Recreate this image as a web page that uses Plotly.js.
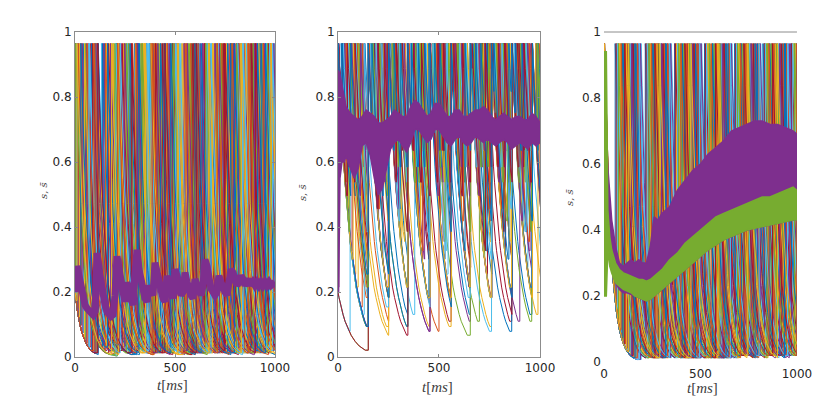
<!DOCTYPE html>
<html><head><meta charset="utf-8">
<script src="https://cdn.plot.ly/plotly-3.0.1.min.js"></script>
<style>html,body{margin:0;padding:0;background:#fff}#chart{width:830px;height:420px}</style>
</head><body><div id="chart"></div>
<script>
// ---------- data ----------
const palette = ['#0072BD','#D95319','#EDB120','#7E2F8E','#77AC30','#4DBEEE','#A2142F'];
const xTicks = [0, 500, 1000];
const xTickText = ['0', '500', '1000'];
const yTicks = [0, 0.2, 0.4, 0.6, 0.8, 1];
const yTickText = ['0', '0.2', '0.4', '0.6', '0.8', '1'];

// decay profile of one synaptic trace after a spike (offset ms -> s), panels 1 & 3
const decayOffsA = [0,5,10,15,20,25,30,35,40,45,50,55,60,65,70,75,80,90,100,110,120,135,150,170,200,250,300];
const decayValsA = [0.965,0.837,0.725,0.629,0.545,0.472,0.410,0.355,0.308,0.267,0.231,0.200,0.174,0.150,0.131,0.113,0.098,0.074,0.055,0.042,0.031,0.020,0.013,0.0075,0.0033,0.0008,0.0002];
// slower decay profile, panel 2
const decayOffsB = [0,5,10,15,20,25,30,35,40,45,50,55,60,65,70,75,80,90,100,110,120,130,140,150,160,180,200,230,260,300,400];
const decayValsB = [0.965,0.888,0.817,0.752,0.691,0.636,0.585,0.538,0.496,0.456,0.419,0.386,0.355,0.327,0.301,0.276,0.255,0.215,0.183,0.154,0.131,0.110,0.094,0.079,0.067,0.048,0.034,0.021,0.013,0.0065,0.0012];
// time of the virtual spike before t=0 that gives the starting value s=0.2
const startSpike1 = -55, startSpike2 = -95, startSpike3 = -55;

// spike times (ms) of each neuron, panel 1
const spikes1 = [
[3,148,322,487,655,811,960],[27,108,266,431,602,744,905],[4,175,341,520,690,843],[58,210,377,548,703,870,990],
[106,254,410,583,728,895],[2,132,306,468,621,782,938],[79,209,357,502,666,821,977],[41,190,309,455,610,760,915],
[5,112,288,442,598,770,928],[91,241,399,560,715,862],[18,160,304,476,637,799,951],[107,270,424,591,736,889],
[6,212,365,530,684,853,998],[66,222,384,509,648,806,944],[110,299,452,617,780,923],[33,205,334,497,652,790,967],
[104,185,348,540,695,834],[8,143,311,463,626,776,908],[52,214,392,566,707,876],[115,262,401,553,719,858,985],
[1,168,316,489,645,817,970],[83,207,373,515,674,829],[111,246,406,577,733,901],[23,156,302,458,603,757,919],
[98,230,389,545,699,847,994],[7,211,329,483,661,786,935],[72,202,355,502,657,814,956],[113,280,437,594,751,884],
[12,137,308,446,608,779,931],[61,216,396,557,712,865],[109,193,346,517,668,826,982],[36,178,313,471,639,793,945],
[102,258,417,571,726,892],[9,204,361,506,660,838,973],[88,236,403,586,741,880],[116,275,428,600,764,913],
[15,152,305,461,615,785,941],[47,218,380,535,688,851],[105,249,414,562,722,897],[3,199,337,493,654,808,962],
[69,226,370,524,680,841,988],[114,284,449,606,748,903],[29,163,319,479,631,797,953],[95,213,386,551,711,869],
[10,183,352,512,671,832,979]
];
// spike times (ms), panel 2: fast-firing neurons
const spikes2fast = [
[0,24,61,150,178,203,231,250,289,316,344,372,398,455,483,509,538,560,597,623,655,689,712,760,785,812,838,860,903,931,960,990],
[2,35,70,102,151,172,249,268,297,321,346,377,421,454,471,502,531,559,655,681,705,733,759,792,826,861,882,917,942,961],
[1,19,48,149,186,214,251,282,307,345,403,432,456,489,520,561,586,611,633,656,702,738,761,798,821,859,898,925,959,984],
[3,41,83,118,152,190,223,252,274,346,368,395,427,453,481,517,562,603,629,654,683,715,741,762,790,862,887,914,938,962],
[0,28,57,96,150,167,197,250,316,347,379,410,455,475,504,544,560,589,618,657,694,759,780,809,846,860,893,924,960,978],
[1,53,91,151,181,208,239,253,287,344,362,391,418,457,492,523,561,577,609,641,655,722,760,774,805,832,863,905,961,988],
[2,31,66,98,129,150,199,229,250,281,312,345,380,454,466,498,527,549,562,600,656,685,716,744,761,828,858,875,920,958],
[0,45,77,150,161,192,219,251,304,332,346,388,422,456,507,538,559,594,624,654,674,703,758,787,817,861,911,940,960,996],
[3,26,59,110,148,201,236,249,276,301,344,358,429,455,481,519,563,651,657,690,726,762,797,823,848,859,881,951,963,982],
[1,37,72,152,176,212,252,296,325,347,371,402,436,454,485,513,541,560,572,616,656,708,737,761,813,843,862,897,926,959],
[0,16,44,87,133,149,180,224,250,262,309,343,393,457,477,511,560,596,631,655,668,737,760,771,818,860,877,934,962,992],
[2,50,150,192,227,251,268,331,346,409,444,455,492,528,552,561,606,640,657,693,721,759,791,852,861,908,944,960],
[1,30,64,104,151,169,251,279,308,345,366,406,454,468,531,562,590,627,654,726,762,784,839,863,892,929,958,989],
[3,22,55,150,183,216,244,253,290,319,347,386,452,456,502,530,559,583,655,680,711,758,766,822,859,888,919,961],
[0,40,79,148,157,206,249,284,313,344,352,420,455,487,515,560,567,622,656,702,750,760,807,835,862,883,948,962],
[2,33,68,111,150,196,233,250,299,328,346,376,414,455,496,524,561,580,611,655,698,727,761,798,829,860,914,940,959],
[1,58,150,174,206,250,271,302,344,384,418,456,477,508,547,562,598,657,677,712,745,762,781,818,861,901,958,985],
[0,27,52,89,149,162,188,217,252,306,345,361,392,454,470,536,560,602,634,654,689,760,776,811,859,871,931,961],
[3,47,85,151,199,229,251,288,345,374,413,457,494,523,559,573,617,656,664,730,761,793,826,862,896,922,960],
[1,21,63,150,168,250,278,311,346,364,398,430,455,479,505,561,629,657,682,707,759,772,846,860,880,910,963]
];
// spike times (ms), panel 2: slow-firing neurons
const spikes2slow = [
[0,150,222,345,455,530,655,760,830,960],[2,88,251,310,455,560,612,760,861,920],
[150,200,346,400,456,561,700,762,862,958],[1,70,150,252,345,420,560,656,720,860,962],
[0,120,251,346,500,561,655,760,790,861,961],[3,151,250,300,455,520,656,762,900,960],
[60,150,251,380,455,561,600,760,861,940],[1,150,200,346,455,562,656,700,860,962],
[2,100,250,345,410,560,654,761,862,990],[0,149,252,346,456,480,655,760,820,959],
[150,180,346,455,561,655,740,861,961],[1,40,150,251,345,455,560,580,657,762,862,960],
[3,151,249,300,456,560,656,760,861,880,962],[0,130,250,344,455,545,655,762,860,960],
[2,150,252,345,450,561,656,680,761,862,961],[1,75,151,250,346,456,562,655,759,859,963]
];
// spike times (ms), panel 3
const spikes3 = [
[0,124,287,446,598,742,881],[1,96,251,402,560,706,853,990],[0,158,309,471,617,770,915],[2,77,230,379,533,690,834,967],
[1,139,296,452,611,759,902],[0,181,327,488,640,785,938],[3,104,262,418,575,722,870],[1,148,315,463,628,776,925],
[0,66,221,372,529,684,829,976],[2,170,336,497,652,799,949],[0,115,273,431,586,735,889],[1,87,243,395,548,702,847,995],
[0,193,349,506,663,812,958],[2,131,282,440,603,751,897],[1,58,214,366,521,677,824,971],[0,162,318,479,635,788,933],
[3,109,266,423,581,729,876],[1,145,301,458,620,765,912],[0,72,236,385,540,695,841,984],[2,186,342,501,657,806,954],
[0,120,278,434,592,738,885],[1,92,247,409,565,713,860],[0,154,312,468,625,781,929],[2,81,226,376,537,687,838,981],
[1,176,331,492,646,793,944],[0,101,257,413,570,719,866],[3,135,292,449,607,755,907],[0,63,218,369,525,681,832,973],
[1,166,322,484,643,795,940],[2,112,270,427,584,732,879],[0,84,240,390,544,698,850,992],[1,189,345,503,660,809,960],
[0,128,285,443,600,748,893],[2,69,224,382,531,686,836,978],[1,151,306,466,622,773,919],[0,98,254,405,562,710,857,997],
[3,173,329,486,649,802,947],[1,117,275,437,589,741,887],[0,142,298,455,613,762,910],[2,75,233,387,546,692,845,987],
[0,183,339,495,655,804,951],[1,107,264,420,578,726,873],[0,160,320,474,632,783,935],[2,89,245,398,555,708,855,999],
[1,126,289,451,595,745,899]
];

// population mean, panel 1 (every 10 ms from 0 to 1000)
const meanStep1 = 10;
const mean1 = [0.2,0.28,0.25,0.21,0.18,0.16,0.15,0.14,0.135,0.13,0.14,0.32,0.27,0.22,0.19,0.16,0.14,0.13,0.125,0.13,
0.19,0.31,0.26,0.22,0.2,0.17,0.23,0.2,0.17,0.16,0.26,0.33,0.27,0.23,0.2,0.18,0.17,0.22,0.2,0.19,
0.29,0.26,0.22,0.2,0.18,0.17,0.25,0.22,0.19,0.18,0.27,0.25,0.21,0.19,0.2,0.26,0.23,0.2,0.19,0.18,
0.24,0.22,0.2,0.19,0.22,0.3,0.28,0.24,0.21,0.2,0.19,0.2,0.25,0.23,0.21,0.2,0.19,0.22,0.27,0.26,
0.24,0.22,0.23,0.25,0.24,0.22,0.23,0.24,0.22,0.23,0.22,0.23,0.22,0.23,0.22,0.23,0.22,0.23,0.22,0.23,0.23];

// population mean band, panel 2
const meanT2 = [0,3,10,20,30,40,50,60,80,100,120,140,160,180,200,220,240,260,280,300,320,340,360,380,400,420,440,460,480,500,520,540,560,580,600,620,640,660,680,700,720,740,760,780,800,820,840,860,880,900,920,940,960,980,1000];
const meanLo2 = [0.2,0.2,0.55,0.6,0.6,0.62,0.6,0.58,0.55,0.58,0.65,0.66,0.62,0.55,0.5,0.52,0.58,0.64,0.66,0.67,0.65,0.63,0.66,0.7,0.7,0.68,0.66,0.67,0.7,0.7,0.68,0.66,0.65,0.67,0.68,0.66,0.65,0.66,0.68,0.67,0.66,0.67,0.66,0.65,0.66,0.67,0.66,0.64,0.65,0.66,0.65,0.64,0.66,0.65,0.66];
const meanHi2 = [0.88,0.88,0.87,0.84,0.8,0.77,0.76,0.75,0.74,0.73,0.74,0.76,0.75,0.74,0.72,0.72,0.73,0.74,0.76,0.75,0.74,0.74,0.77,0.79,0.78,0.76,0.74,0.75,0.78,0.78,0.76,0.74,0.74,0.76,0.76,0.74,0.74,0.75,0.76,0.76,0.77,0.76,0.74,0.73,0.74,0.75,0.74,0.73,0.74,0.74,0.73,0.73,0.75,0.74,0.72];

// panel 3: purple band and green band
const purpleT3 = [15,25,40,60,80,100,120,140,160,180,200,220,240,260,280,300,340,380,420,460,500,540,580,620,660,700,740,780,820,860,900,940,980,1000];
const purpleHi3 = [0.63,0.55,0.43,0.35,0.3,0.29,0.3,0.31,0.3,0.31,0.3,0.3,0.35,0.44,0.43,0.45,0.47,0.52,0.55,0.58,0.6,0.63,0.65,0.67,0.7,0.71,0.72,0.73,0.73,0.72,0.72,0.71,0.7,0.69];
const purpleLo3 = [0.5,0.36,0.28,0.24,0.22,0.21,0.21,0.205,0.2,0.195,0.19,0.185,0.19,0.2,0.21,0.22,0.24,0.26,0.28,0.3,0.32,0.34,0.355,0.37,0.38,0.39,0.4,0.405,0.41,0.415,0.42,0.425,0.43,0.43];
const greenT3 = [0,12,20,30,40,60,80,100,120,140,160,180,200,220,240,260,280,300,340,380,420,460,500,540,580,620,660,700,740,780,820,860,900,940,980,1000];
const greenLo3 = [0.2,0.2,0.34,0.29,0.27,0.24,0.23,0.22,0.215,0.21,0.2,0.195,0.19,0.185,0.19,0.2,0.21,0.22,0.24,0.26,0.28,0.3,0.32,0.34,0.355,0.37,0.38,0.39,0.4,0.405,0.41,0.415,0.42,0.425,0.43,0.43];
const greenHi3 = [0.94,0.94,0.46,0.38,0.34,0.3,0.28,0.27,0.265,0.26,0.255,0.25,0.25,0.245,0.25,0.26,0.27,0.28,0.31,0.33,0.36,0.38,0.4,0.42,0.44,0.45,0.46,0.47,0.48,0.49,0.5,0.5,0.51,0.52,0.53,0.52];

// ---------- build traces ----------
const PURPLE = '#7E2F8E', GREEN = '#77AC30';
const data = [];
function neuronTrace(spk, start, offs, vals, xa, ya, color) {
  const times = [start].concat(spk);
  const xs = [], ys = [];
  for (let i = 0; i < times.length; i++) {
    const ts = times[i];
    const nx = i + 1 < times.length ? times[i + 1] : Infinity;
    let last = vals[0];
    for (let k = 0; k < offs.length; k++) {
      const t = ts + offs[k];
      if (t >= nx) { xs.push(nx); ys.push(last); break; }
      xs.push(t); ys.push(vals[k]); last = vals[k];
      if (t > 1000) break;
    }
  }
  return {type: 'scatter', mode: 'lines', x: xs, y: ys, xaxis: xa, yaxis: ya,
          line: {color: color, width: 1}, hoverinfo: 'skip', showlegend: false};
}
function band(t, lo, hi, xa, ya, color) {
  const xs = t.concat(t.slice().reverse());
  const ys = hi.concat(lo.slice().reverse());
  return {type: 'scatter', mode: 'lines', x: xs, y: ys, xaxis: xa, yaxis: ya, fill: 'toself',
          fillcolor: color, line: {color: color, width: 1.5}, hoverinfo: 'skip', showlegend: false};
}
spikes1.forEach((s, i) => data.push(neuronTrace(s, startSpike1, decayOffsA, decayValsA, 'x', 'y', palette[i % 7])));
// interleave slow and fast neurons of panel 2
const spikes2 = [];
for (let i = 0; i < Math.max(spikes2fast.length, spikes2slow.length); i++) {
  if (i < spikes2slow.length) spikes2.push(spikes2slow[i]);
  if (i < spikes2fast.length) spikes2.push(spikes2fast[i]);
}
spikes2.forEach((s, i) => data.push(neuronTrace(s, startSpike2, decayOffsB, decayValsB, 'x2', 'y2', palette[i % 7])));
spikes3.forEach((s, i) => data.push(neuronTrace(s, startSpike3, decayOffsA, decayValsA, 'x3', 'y3', palette[i % 7])));

data.push({type: 'scatter', mode: 'lines', x: mean1.map((_, i) => i * meanStep1), y: mean1, xaxis: 'x', yaxis: 'y',
           line: {color: PURPLE, width: 7}, hoverinfo: 'skip', showlegend: false});
data.push(band(meanT2, meanLo2, meanHi2, 'x2', 'y2', PURPLE));
data.push(band(purpleT3, purpleLo3, purpleHi3, 'x3', 'y3', PURPLE));
data.push(band(greenT3, greenLo3, greenHi3, 'x3', 'y3', GREEN));

// ---------- layout ----------
const tickFont = {family: 'DejaVu Sans', size: 12, color: '#262626'};
function xax(dom, box) {
  return {domain: dom, range: [0, 1000], tickvals: xTicks, ticktext: xTickText, ticks: 'inside',
          ticklen: 3, tickcolor: box ? '#888' : 'rgba(0,0,0,0)', showline: box, linecolor: '#8c8c8c', linewidth: 1,
          mirror: box ? 'ticks' : false, zeroline: false, showgrid: false, tickfont: tickFont, fixedrange: true};
}
function yax(dom, box, anchor) {
  return {domain: dom, range: [0, 1], tickvals: yTicks, ticktext: yTickText, ticks: 'inside',
          ticklen: 3, tickcolor: box ? '#888' : 'rgba(0,0,0,0)', showline: box, linecolor: '#8c8c8c', linewidth: 1,
          mirror: box ? 'ticks' : false, zeroline: false, showgrid: false, tickfont: tickFont, anchor: anchor, fixedrange: true};
}
const labFontY = {family: 'DejaVu Serif', size: 10, color: '#444'};
const labFontX = {family: 'Liberation Serif', size: 15, color: '#404040'};
const ylab = '<i>s</i>, <i>s\u0304</i>';
const xlab = '<i>t</i>[<i>ms</i>]';
function ann(x, y, text, font, angle) {
  return {xref: 'paper', yref: 'paper', x: x, y: y, text: text, showarrow: false, font: font,
          textangle: angle, xanchor: 'center', yanchor: 'middle'};
}
const layout = {
  width: 830, height: 420, margin: {l: 0, r: 0, t: 0, b: 0},
  paper_bgcolor: '#fff', plot_bgcolor: '#fff', showlegend: false, hovermode: false,
  xaxis: Object.assign(xax([0.0904, 0.3313], true), {anchor: 'y'}),
  yaxis: yax([0.15, 0.9238], true, 'x'),
  xaxis2: Object.assign(xax([0.4072, 0.6506], true), {anchor: 'y2'}),
  yaxis2: yax([0.15, 0.9238], true, 'x2'),
  xaxis3: Object.assign(xax([0.7277, 0.9602], false), {anchor: 'y3', ticklabelstandoff: 3}),
  yaxis3: Object.assign(yax([0.1381, 0.9238], false, 'x3'), {ticklabelstandoff: 2}),
  shapes: [{type: 'line', xref: 'x3 domain', yref: 'y3 domain', x0: 0, x1: 1, y0: 1, y1: 1,
            line: {color: '#8c8c8c', width: 1}}],
  annotations: [
    ann(0.0518, 0.5476, ylab, labFontY, -90), ann(0.3651, 0.5405, ylab, labFontY, -90), ann(0.6867, 0.531, ylab, labFontY, -90),
    ann(0.2084, 0.0833, xlab, labFontX, 0), ann(0.5277, 0.0786, xlab, labFontX, 0), ann(0.8458, 0.0762, xlab, labFontX, 0)
  ]
};
Plotly.newPlot('chart', data, layout, {staticPlot: true, displayModeBar: false});
</script>
</body></html>
